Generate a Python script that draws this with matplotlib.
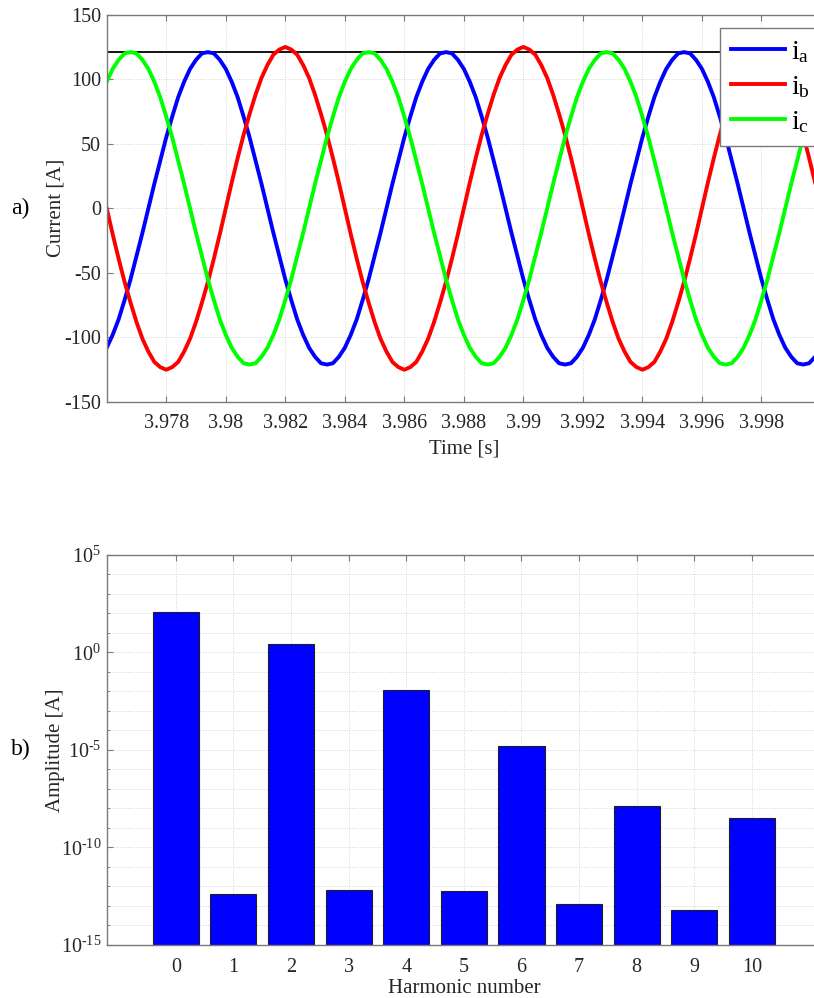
import numpy as np
import matplotlib
matplotlib.use("Agg")
import matplotlib.pyplot as plt

# ---- data ------------------------------------------------------------
# phase currents [A], sampled every 0.2 ms from t = 3.976 s to 4.0 s
t_start, t_stop = 3.976, 4.0
i_a = [-108, -98, -86, -71, -55, -37, -19, 0, 19, 37, 55, 71, 86, 98, 108, 115, 120,
       121, 120, 115, 108, 98, 86, 71, 55, 37, 19, 0, -19, -37, -55, -71, -86, -98, -108, -115, -120,
       -121, -120, -115, -108, -98, -86, -71, -55, -37, -19, 0, 19, 37, 55, 71, 86, 98, 108, 115, 120,
       121, 120, 115, 108, 98, 86, 71, 55, 37, 19, 0, -19, -37, -55, -71, -86, -98, -108, -115, -120,
       -121, -120, -115, -108, -98, -86, -71, -55, -37, -19, 0, 19, 37, 55, 71, 86, 98, 108, 115, 120,
       121, 120, 115, 108, 98, 86, 71, 55, 37, 19, 0, -19, -37, -55, -71, -86, -98, -108, -115, -120,
       -121, -120, -115, -108]
i_b = [0, -20, -39, -57, -73, -88, -101, -111, -119, -123,
       -125, -123, -119, -111, -101, -88, -73, -57, -39, -20, 0, 20, 39, 57, 73, 88, 101, 111, 119, 123,
       125, 123, 119, 111, 101, 88, 73, 57, 39, 20, 0, -20, -39, -57, -73, -88, -101, -111, -119, -123,
       -125, -123, -119, -111, -101, -88, -73, -57, -39, -20, 0, 20, 39, 57, 73, 88, 101, 111, 119, 123,
       125, 123, 119, 111, 101, 88, 73, 57, 39, 20, 0, -20, -39, -57, -73, -88, -101, -111, -119, -123,
       -125, -123, -119, -111, -101, -88, -73, -57, -39, -20, 0, 20, 39, 57, 73, 88, 101, 111, 119, 123,
       125, 123, 119, 111, 101, 88, 73, 57, 39, 20, 0]
i_c = [98, 108, 115, 120,
       121, 120, 115, 108, 98, 86, 71, 55, 37, 19, 0, -19, -37, -55, -71, -86, -98, -108, -115, -120,
       -121, -120, -115, -108, -98, -86, -71, -55, -37, -19, 0, 19, 37, 55, 71, 86, 98, 108, 115, 120,
       121, 120, 115, 108, 98, 86, 71, 55, 37, 19, 0, -19, -37, -55, -71, -86, -98, -108, -115, -120,
       -121, -120, -115, -108, -98, -86, -71, -55, -37, -19, 0, 19, 37, 55, 71, 86, 98, 108, 115, 120,
       121, 120, 115, 108, 98, 86, 71, 55, 37, 19, 0, -19, -37, -55, -71, -86, -98, -108, -115, -120,
       -121, -120, -115, -108, -98, -86, -71, -55, -37, -19, 0, 19, 37, 55, 71, 86, 98]
peak_level = 121
time_ticks = [3.978, 3.98, 3.982, 3.984, 3.986, 3.988, 3.99, 3.992, 3.994, 3.996, 3.998]

# harmonic spectrum [A]
harmonics = [0, 1, 2, 3, 4, 5, 6, 7, 8, 9, 10]
amplitude = [121, 4.3e-13, 2.7, 6.8e-13, 1.1e-2, 5.6e-13, 1.6e-5, 1.2e-13, 1.4e-8, 6.2e-14, 3.1e-9]
decade_labels = ['-15', '-10', '-5', '0', '5']

# ---- style -------------------------------------------------------------
plt.rcParams['font.family'] = ['Liberation Serif', 'DejaVu Serif']
plt.rcParams['mathtext.fontset'] = 'custom'
plt.rcParams['mathtext.rm'] = 'Liberation Serif'
plt.rcParams['mathtext.it'] = 'Liberation Serif:italic'
plt.rcParams['axes.unicode_minus'] = False
plt.rcParams['font.size'] = 14

txt_col = '#262626'
spine_col = '#7a7a7a'
grid_kw = dict(color='#d4d4d4', linestyle=':', linewidth=0.7)


def style_axes(ax):
    for s in ax.spines.values():
        s.set_color(spine_col)
        s.set_linewidth(1.0)
    ax.tick_params(which='both', direction='in', top=True, right=True,
                   color=spine_col, labelcolor=txt_col, labelsize=14.5)
    ax.tick_params(which='major', length=4.5, width=0.8)
    ax.tick_params(which='minor', length=2.5, width=0.6)
    ax.tick_params(axis='x', which='both', pad=9)
    ax.tick_params(axis='y', which='both', pad=4)
    ax.set_axisbelow(True)


fig = plt.figure(figsize=(8.14, 9.98), dpi=100)

# ---- a) phase currents -------------------------------------------------
ax1 = fig.add_axes([0.1311, 0.5972, 0.8775, 0.3881])
t = np.linspace(t_start, t_stop, len(i_a))
ax1.axhline(peak_level, color='k', linewidth=1.3, zorder=1)
ax1.plot(t, i_a, color=(0, 0, 1), linewidth=2.8, label=r'$\mathregular{i_a}$')
ax1.plot(t, i_b, color=(1, 0, 0), linewidth=2.8, label=r'$\mathregular{i_b}$')
ax1.plot(t, i_c, color=(0, 1, 0), linewidth=2.8, label=r'$\mathregular{i_c}$')
ax1.set_xlim(t_start, t_stop)
ax1.set_ylim(-150, 150)
ax1.set_yticks([-150, -100, -50, 0, 50, 100, 150])
ax1.set_xticks(time_ticks)
ax1.set_xticklabels(['%g' % v for v in time_ticks])
ax1.grid(True, **grid_kw)
style_axes(ax1)
ax1.set_xlabel('Time [s]', color=txt_col, fontsize=15, labelpad=4)
ax1.set_ylabel('Current [A]', color=txt_col, fontsize=15, labelpad=-1)
leg = ax1.legend(loc='upper right', bbox_to_anchor=(1.0, 0.9656), borderaxespad=0,
                 fontsize=20, handlelength=1.95, handletextpad=0.2, labelspacing=0.33,
                 borderpad=0.4, fancybox=False, framealpha=1)
leg.get_frame().set_edgecolor(spine_col)
leg.get_frame().set_linewidth(1.0)
fig.text(0.025, 0.791, 'a)', fontsize=17, color='k', va='center', ha='center')

# ---- b) harmonic spectrum ----------------------------------------------
ax2 = fig.add_axes([0.1311, 0.0531, 0.8775, 0.3911])
ax2.bar(harmonics, amplitude, width=0.8, color=(0, 0, 1), edgecolor='#202020',
        linewidth=0.8, zorder=2)
ax2.set_yscale('log')
ax2.set_ylim(1e-15, 1e5)
ax2.set_xlim(-1.2, 11.2)
ax2.set_xticks(harmonics)
ax2.set_yticks([1e-15, 1e-10, 1e-5, 1e0, 1e5])
ax2.set_yticklabels([r'$\mathregular{10^{\text{%s}}}$' % e for e in decade_labels])
ax2.set_yticks([10.0 ** e for e in range(-15, 6)], minor=True)
ax2.yaxis.set_minor_formatter(matplotlib.ticker.NullFormatter())
ax2.grid(True, which='both', axis='y', **grid_kw)
ax2.grid(True, which='major', axis='x', **grid_kw)
style_axes(ax2)
ax2.set_xlabel('Harmonic number', color=txt_col, fontsize=15, labelpad=1.5)
ax2.set_ylabel('Amplitude [A]', color=txt_col, fontsize=15, labelpad=-3)
fig.text(0.025, 0.249, 'b)', fontsize=17, color='k', va='center', ha='center')

fig.savefig('out.png', dpi=100)
